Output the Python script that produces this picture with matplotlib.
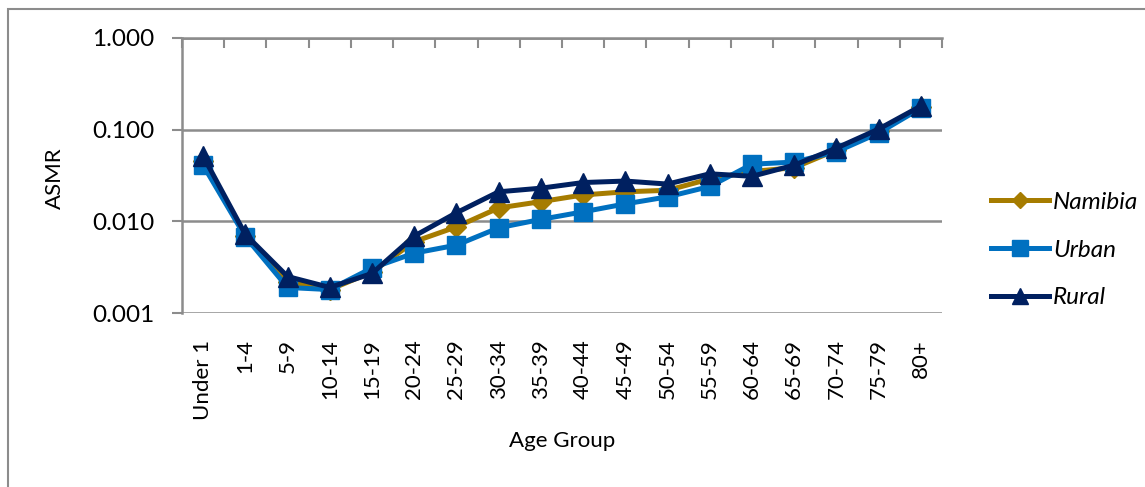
import numpy as np
import matplotlib
matplotlib.use('Agg')
import matplotlib.pyplot as plt
from matplotlib.patches import Rectangle

plt.rcParams['font.family'] = ['Lato', 'DejaVu Sans']

# age-specific mortality rates by age group
age_groups = ['Under 1', '1-4', '5-9', '10-14', '15-19', '20-24', '25-29', '30-34',
              '35-39', '40-44', '45-49', '50-54', '55-59', '60-64', '65-69', '70-74',
              '75-79', '80+']
namibia = [0.045, 0.0070, 0.0022, 0.0018, 0.0028, 0.0060, 0.0087, 0.0140, 0.0164,
           0.0194, 0.0210, 0.0218, 0.0290, 0.0350, 0.0385, 0.0600, 0.0960, 0.1750]
urban = [0.041, 0.0068, 0.0019, 0.0018, 0.0031, 0.0045, 0.0055, 0.0085, 0.0105,
         0.0127, 0.0155, 0.0185, 0.0240, 0.0420, 0.0443, 0.0575, 0.0920, 0.1720]
rural = [0.0515, 0.0072, 0.0025, 0.0019, 0.0027, 0.0069, 0.0124, 0.0210, 0.0230,
         0.0265, 0.0275, 0.0255, 0.0330, 0.0310, 0.0410, 0.0630, 0.1015, 0.1810]

x = np.arange(len(age_groups))
fs = 16
grey = '#8c8c8c'

fig = plt.figure(figsize=(11.45, 4.87), dpi=100)
ax = fig.add_axes([182/1145, 1 - 313/487, 760/1145, 275/487])

ax.plot(x, namibia, '-D', color='#A67C00', lw=3.6, ms=10, label='Namibia', zorder=3)
ax.plot(x, urban, '-s', color='#0070C0', lw=3.6, ms=13, label='Urban', zorder=4)
ax.plot(x, rural, '-^', color='#002060', lw=3.6, ms=14, label='Rural', zorder=5)

ax.set_yscale('log')
ax.set_ylim(0.001, 1.0)
ax.set_xlim(-0.5, len(age_groups) - 0.5)
ax.set_yticks([0.001, 0.01, 0.1, 1.0])
ax.set_yticklabels(['0.001', '0.010', '0.100', '1.000'])
ax.yaxis.set_minor_locator(matplotlib.ticker.NullLocator())
ax.yaxis.grid(True, color=grey, lw=1.8)
ax.set_axisbelow(True)

ax.set_xticks(x)
ax.set_xticklabels(age_groups, rotation=90)
ax.set_xticks(np.arange(-0.5, len(age_groups)), minor=True)
ax.tick_params(axis='x', which='major', length=0, pad=19, labelsize=fs)
ax.tick_params(axis='x', which='minor', bottom=False, top=True, direction='in',
               length=7, width=1.5, color=grey)
ax.tick_params(axis='y', which='major', length=7, width=1.5, color=grey,
               pad=13, labelsize=17.5)

for side in ['right', 'bottom']:
    ax.spines[side].set_visible(False)
for side in ['left', 'top']:
    ax.spines[side].set_color(grey)
    ax.spines[side].set_linewidth(1.8)

ax.set_xlabel('Age Group', fontsize=fs)
ax.xaxis.set_label_coords(0.5, -0.43)
ax.xaxis.label.set_va('top')
ax.set_ylabel('ASMR', fontsize=fs)
ax.yaxis.set_label_coords(-0.167, 0.49)
ax.yaxis.label.set_va('center')

leg = fig.legend(loc='center left', bbox_to_anchor=(979/1145, 1 - 250/487),
                 frameon=False, prop={'size': 17.5, 'style': 'italic'},
                 handlelength=2.4, handletextpad=0.15, labelspacing=1.1,
                 borderpad=0, markerscale=0.85)

# outer chart border
fig.patches.append(Rectangle((8/1145, -0.05), 1.1, 1 - 9/487 + 0.05,
                             transform=fig.transFigure, fill=False,
                             edgecolor=grey, lw=1.5))

plt.savefig('out.png', dpi=100)
